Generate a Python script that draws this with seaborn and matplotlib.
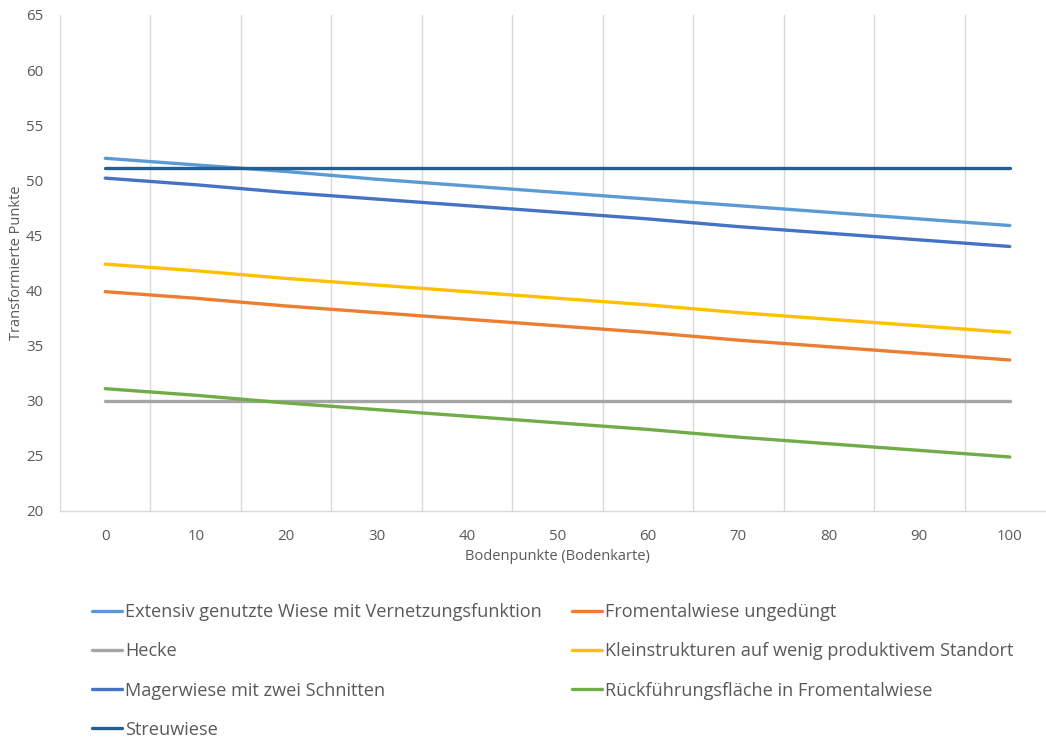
import numpy as np
import pandas as pd
import matplotlib
matplotlib.use("Agg")
import matplotlib.pyplot as plt
from matplotlib.lines import Line2D
import seaborn as sns

# Bodenpunkte (soil score) on the x axis
bodenpunkte = [0, 10, 20, 30, 40, 50, 60, 70, 80, 90, 100]

extensiv = [52.0, 51.4, 50.8, 50.1, 49.5, 48.9, 48.3, 47.7, 47.1, 46.5, 45.9]
fromental = [39.9, 39.3, 38.6, 38.0, 37.4, 36.8, 36.2, 35.5, 34.9, 34.3, 33.7]
hecke = [30.0, 30.0, 30.0, 30.0, 30.0, 30.0, 30.0, 30.0, 30.0, 30.0, 30.0]
kleinstrukturen = [42.4, 41.8, 41.1, 40.5, 39.9, 39.3, 38.7, 38.0, 37.4, 36.8, 36.2]
magerwiese = [50.2, 49.6, 48.9, 48.3, 47.7, 47.1, 46.5, 45.8, 45.2, 44.6, 44.0]
rueckfuehrung = [31.1, 30.5, 29.8, 29.2, 28.6, 28.0, 27.4, 26.7, 26.1, 25.5, 24.9]
streuwiese = [51.1, 51.1, 51.1, 51.1, 51.1, 51.1, 51.1, 51.1, 51.1, 51.1, 51.1]

series_names = [
    "Extensiv genutzte Wiese mit Vernetzungsfunktion",
    "Fromentalwiese ungedüngt",
    "Hecke",
    "Kleinstrukturen auf wenig produktivem Standort",
    "Magerwiese mit zwei Schnitten",
    "Rückführungsfläche in Fromentalwiese",
    "Streuwiese",
]
series_values = [extensiv, fromental, hecke, kleinstrukturen, magerwiese,
                 rueckfuehrung, streuwiese]
colors = ["#5B9BD5", "#ED7D31", "#A5A5A5", "#FFC000", "#4472C4", "#70AD47", "#255E91"]

rows = []
for name, vals in zip(series_names, series_values):
    for x, y in zip(bodenpunkte, vals):
        rows.append({"Bodenpunkte": x, "Punkte": y, "Typ": name})
df = pd.DataFrame(rows)

sns.set_theme(style="white")
plt.rcParams["font.family"] = ["Open Sans", "DejaVu Sans"]
text_color = "#595959"
grid_color = "#D9D9D9"

fig = plt.figure(figsize=(10.46, 7.42), dpi=100)
W, H = 1046, 742
ax = fig.add_axes([60 / W, 1 - 511 / H, (1055 - 60) / W, (511 - 15) / H])

sns.lineplot(data=df, x="Bodenpunkte", y="Punkte", hue="Typ",
             palette=dict(zip(series_names, colors)), hue_order=series_names,
             linewidth=2.4, ax=ax, legend=False)

ax.set_xlim(-5, 105)
ax.set_ylim(20, 65)
ax.set_xticks(bodenpunkte)
ax.set_xticks(np.arange(-5, 106, 10), minor=True)
ax.set_yticks(np.arange(20, 66, 5))
ax.grid(False)
ax.grid(True, which="minor", axis="x", color=grid_color, linewidth=1)
ax.tick_params(which="both", length=0, colors=text_color, labelsize=10.8)
ax.tick_params(axis="x", pad=13)
ax.tick_params(axis="y", pad=12)
for side in ["top", "right", "left"]:
    ax.spines[side].set_visible(False)
ax.spines["bottom"].set_color(grid_color)
ax.spines["bottom"].set_linewidth(1)

ax.set_xlabel("Bodenpunkte (Bodenkarte)", color=text_color, fontsize=10.5)
ax.set_ylabel("Transformierte Punkte", color=text_color, fontsize=10.5)
ax.xaxis.set_label_coords(0.5, -(557 - 511) / 496)
ax.xaxis.label.set_va("center")
ax.yaxis.set_label_coords(-(60 - 17) / 995, 0.5)
ax.yaxis.label.set_va("center")

# Legend in two columns, filled row by row
handles = [Line2D([], [], color=c, linewidth=2.4) for c in colors]
left_idx = [0, 2, 4, 6]
right_idx = [1, 3, 5]
common = dict(frameon=False, fontsize=13.1, labelcolor=text_color, handlelength=1.65,
              handletextpad=0.17, labelspacing=1.17, borderaxespad=0, borderpad=0)
fig.legend([handles[i] for i in left_idx], [series_names[i] for i in left_idx],
           loc="upper left", bbox_to_anchor=(92 / W, 1 - 603 / H), **common)
fig.legend([handles[i] for i in right_idx], [series_names[i] for i in right_idx],
           loc="upper left", bbox_to_anchor=(572 / W, 1 - 603 / H), **common)

fig.savefig("out.png", dpi=100, facecolor="white")
